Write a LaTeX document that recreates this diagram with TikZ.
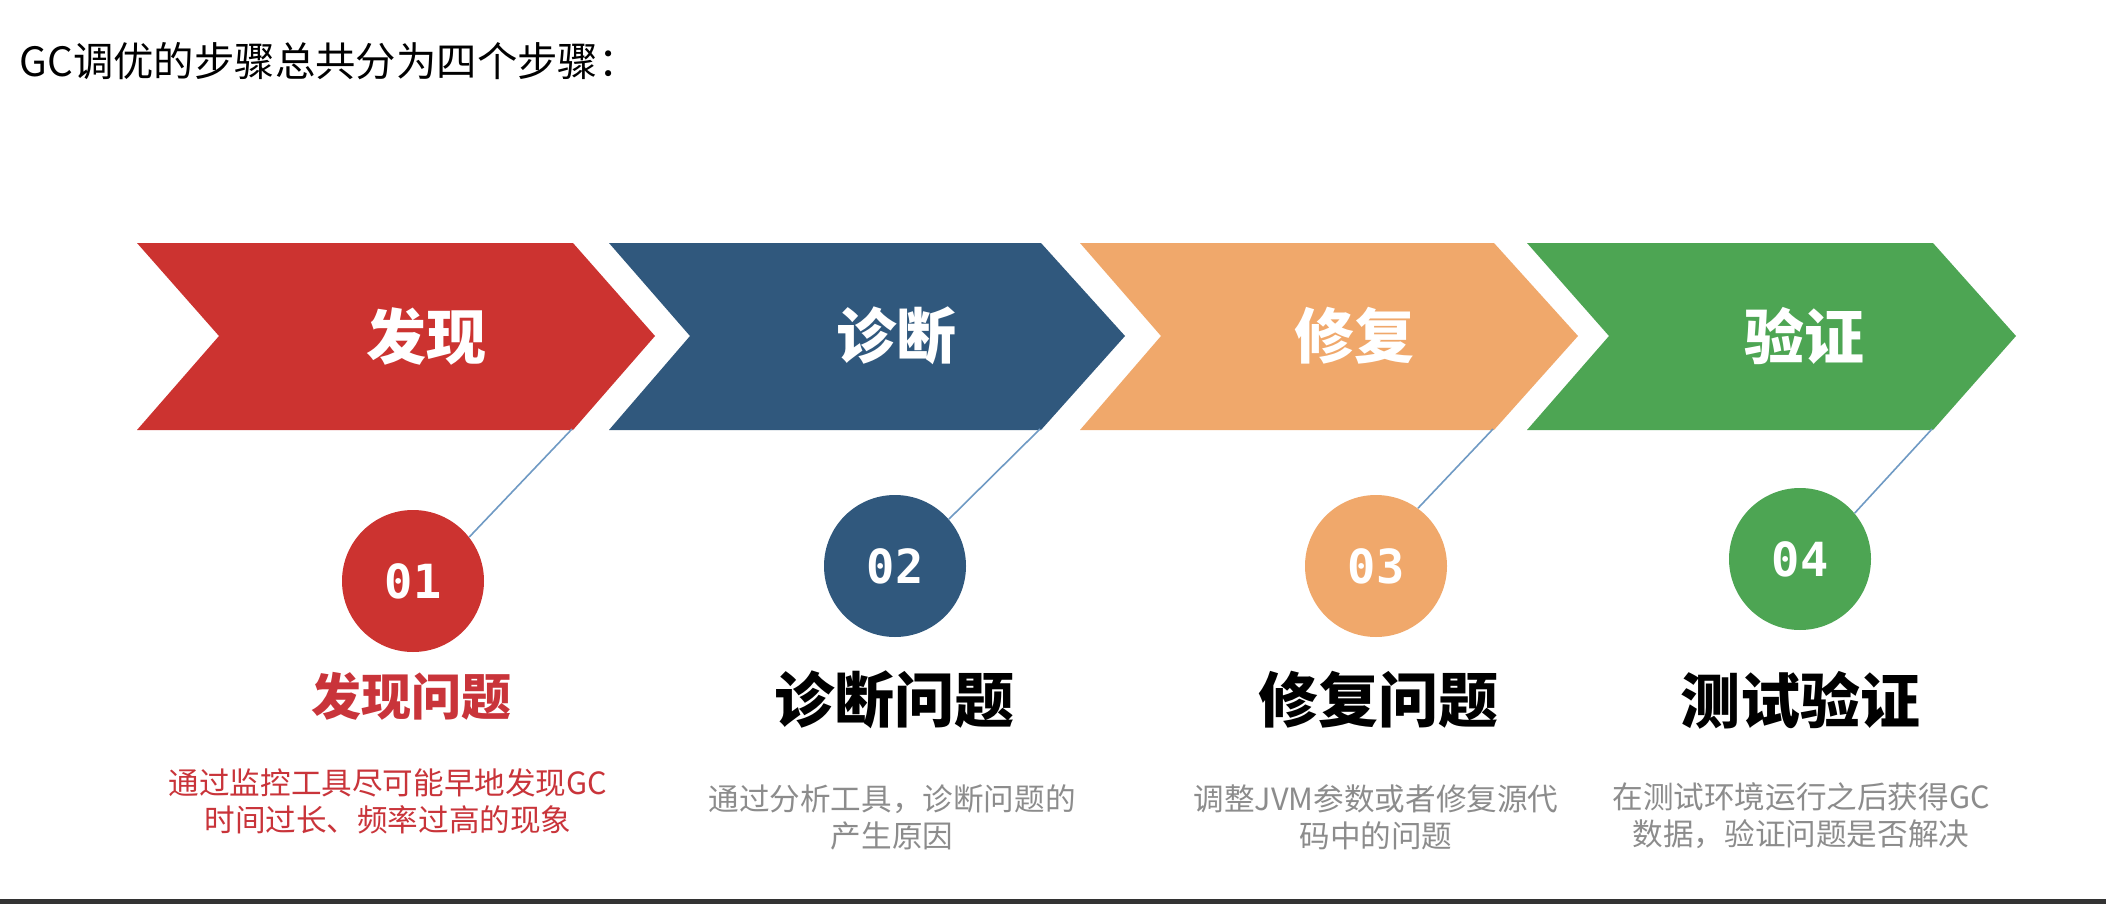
\documentclass[tikz,border=0pt]{standalone}
\usepackage{fontspec}
\setmainfont{Noto Sans CJK SC}
\newfontfamily\numfont{DejaVu Sans Mono}
\newfontfamily\heavyfont{Noto Sans CJK SC Black}
\definecolor{cred}{HTML}{CC3330}
\definecolor{cblue}{HTML}{30587D}
\definecolor{corange}{HTML}{F0A86B}
\definecolor{cgreen}{HTML}{4DA553}
\definecolor{clink}{HTML}{6F9AC4}
\definecolor{cgray}{HTML}{8C8C8C}
\definecolor{credtext}{HTML}{C9343A}
\definecolor{cbar}{HTML}{333333}
\tikzset{
  chevlabel/.style={text=white, inner sep=0pt, font=\heavyfont\fontsize{30}{34}\selectfont},
  numcircle/.style={circle, minimum size=71pt, inner sep=0pt, text=white, font=\numfont\fontsize{23.5}{26}\selectfont\bfseries},
  heading/.style={inner sep=0pt, font=\heavyfont\fontsize{30}{34}\selectfont},
  desc/.style={inner sep=0pt, align=center, font=\fontsize{15.3}{18.5}\selectfont},
  link/.style={draw=clink, line width=0.8pt},
}
\begin{document}
\begin{tikzpicture}[x=0.5pt, y=-0.5pt]
\useasboundingbox (0,0) rectangle (2106,904);
\fill[white] (0,0) rectangle (2106,904);
\fill[cbar] (0,899) rectangle (2106,904);
% title
\node[anchor=west, inner sep=0pt, font=\fontsize{20.2}{23}\selectfont] (title) at (19,61) {GC调优的步骤总共分为四个步骤：};
% chevrons
\fill[cred] (137,243) -- (573,243) -- (655,336) -- (573,430) -- (137,430) -- (219,336) -- cycle;
\fill[cblue] (609,243) -- (1041,243) -- (1125,336) -- (1041,430) -- (609,430) -- (690,336) -- cycle;
\fill[corange] (1080,243) -- (1494,243) -- (1578,336) -- (1494,430) -- (1080,430) -- (1161,336) -- cycle;
\fill[cgreen] (1527,243) -- (1933,243) -- (2016,336) -- (1933,430) -- (1527,430) -- (1609,336) -- cycle;
\coordinate (k1) at (572,429);
\coordinate (k2) at (1040,429);
\coordinate (k3) at (1493,429);
\coordinate (k4) at (1932,429);
\node[chevlabel] (l1) at (426,336) {发现};
\node[chevlabel] (l2) at (896,336) {诊断};
\node[chevlabel] (l3) at (1354,336) {修复};
\node[chevlabel] (l4) at (1804,336) {验证};
% circles
\node[numcircle, fill=cred] (n1) at (413,581) {01};
\node[numcircle, fill=cblue] (n2) at (895,566) {02};
\node[numcircle, fill=corange] (n3) at (1376,566) {03};
\node[numcircle, fill=cgreen] (n4) at (1800,559) {04};
% connectors
\draw[link] (k1) -- (n1.38);
\draw[link] (k2) -- (n2.41);
\draw[link] (k3) -- (n3.54);
\draw[link] (k4) -- (n4.40);
% headings
\node[heading, text=credtext, font=\heavyfont\fontsize{25}{28}\selectfont] (h1) at (411,696) {发现问题};
\node[heading] (h2) at (894,700) {诊断问题};
\node[heading] (h3) at (1378,700) {修复问题};
\node[heading] (h4) at (1800,700) {测试验证};
% descriptions
\node[desc, text=credtext] (d1) at (388,801) {通过监控工具尽可能早地发现GC\\时间过长、频率过高的现象};
\node[desc, text=cgray] (d2) at (892,817) {通过分析工具，诊断问题的\\产生原因};
\node[desc, text=cgray] (d3) at (1376,817) {调整JVM参数或者修复源代\\码中的问题};
\node[desc, text=cgray] (d4) at (1801,816) {在测试环境运行之后获得GC\\数据，验证问题是否解决};
\end{tikzpicture}
\end{document}
